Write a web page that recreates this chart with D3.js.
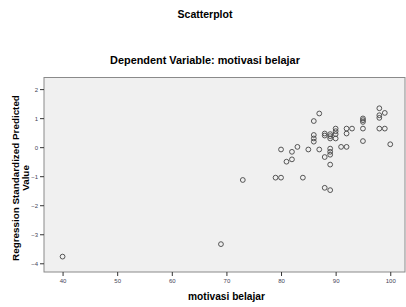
<!DOCTYPE html>
<html><head><meta charset="utf-8">
<script src="https://cdn.jsdelivr.net/npm/d3@7"></script>
<style>html,body{margin:0;padding:0;background:#fff;}svg{display:block;}</style>
</head><body>
<script>
const xValues = [40,69,73,79,80,84,88,89,
  80,82,83,82,81,85,87,88,89,89,89,89,
  86,86,86,86,87,88,88,89,89,89,90,90,90,90,
  91,92,92,93,92,95,95,95,95,95,98,99,98,98,98,99,100];
const yValues = [-3.77,-3.34,-1.13,-1.05,-1.05,-1.05,-1.40,-1.48,
  -0.08,-0.16,0.01,-0.42,-0.50,-0.08,-0.08,-0.34,-0.05,-0.16,-0.26,-0.60,
  0.42,0.30,0.19,0.90,1.16,0.47,0.40,0.45,0.38,0.30,0.64,0.55,0.45,0.30,
  0.01,0.01,0.64,0.64,0.47,0.99,0.93,0.87,0.64,0.21,1.34,1.18,1.10,1.01,0.64,0.64,0.10];
const xTicks = [40,50,60,70,80,90,100];
const yTicks = [-4,-3,-2,-1,0,1,2];
const title = "Scatterplot";
const subtitle = "Dependent Variable: motivasi belajar";
const xTitle = "motivasi belajar";
const yTitleLines = ["Regression Standardized Predicted","Value"];

const W=406,H=307;
const svg=d3.select("body").append("svg").attr("width",W).attr("height",H);
const L=44,R=405,T=77.5,B=272;
const x=d3.scaleLinear().domain([36.6,102.7]).range([L,R]);
const y=d3.scaleLinear().domain([-4.3,2.4]).range([B,T]);
const font="'Liberation Sans', Arial, sans-serif";

svg.append("rect").attr("x",L).attr("y",T).attr("width",R-L).attr("height",B-T)
  .attr("fill","#f0f0f0").attr("stroke","#8a8a8a").attr("stroke-width",1);

const xa=svg.append("g").attr("transform",`translate(0,${B})`)
  .call(d3.axisBottom(x).tickValues(xTicks).tickSize(4).tickPadding(3).tickFormat(d3.format("d")));
const ya=svg.append("g").attr("transform",`translate(${L},0)`)
  .call(d3.axisLeft(y).tickValues(yTicks).tickSize(4).tickPadding(2).tickFormat(d3.format("d")));
[xa,ya].forEach(a=>{
  a.select(".domain").remove();
  a.selectAll("line").attr("stroke","#333");
  a.selectAll("text").attr("font-family",font).attr("font-size",6).attr("fill","#445");
});

svg.append("g").selectAll("circle").data(xValues.map((v,i)=>[v,yValues[i]])).join("circle")
  .attr("cx",d=>x(d[0])).attr("cy",d=>y(d[1])).attr("r",2.4)
  .attr("fill","none").attr("stroke","#444").attr("stroke-width",0.9);

function fitText(sel, target){
  const w = sel.node().getComputedTextLength();
  const fs = +sel.attr("font-size");
  sel.attr("font-size", fs*target/w);
}
const t1=svg.append("text").attr("x",205).attr("y",18).attr("text-anchor","middle")
  .attr("font-family",font).attr("font-weight","bold").attr("font-size",10).text(title);
fitText(t1,55);
const t2=svg.append("text").attr("x",205).attr("y",64).attr("text-anchor","middle")
  .attr("font-family",font).attr("font-weight","bold").attr("font-size",10).text(subtitle);
fitText(t2,190);
const t3=svg.append("text").attr("x",226.5).attr("y",300).attr("text-anchor","middle")
  .attr("font-family",font).attr("font-weight","bold").attr("font-size",10).text(xTitle);
fitText(t3,77);
const yt=svg.append("text").attr("transform","translate(19,178) rotate(-90)")
  .attr("text-anchor","middle").attr("font-family",font).attr("font-weight","bold").attr("font-size",10);
yTitleLines.forEach((s,i)=>yt.append("tspan").attr("x",0).attr("dy",i?10:0).text(s));
const w0 = yt.select("tspan").node().getComputedTextLength();
yt.attr("font-size",10*166/w0);
</script>
</body></html>
